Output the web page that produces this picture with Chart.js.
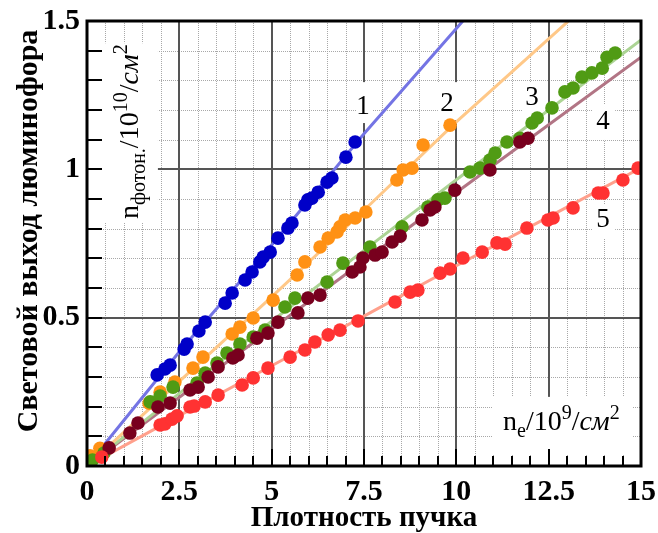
<!DOCTYPE html>
<html>
<head>
<meta charset="utf-8">
<script src="https://cdn.jsdelivr.net/npm/chart.js@4.4.0/dist/chart.umd.min.js"></script>
<style>
  html, body { margin: 0; padding: 0; background: #fff; }
</style>
</head>
<body>
<canvas id="chart" width="658" height="533"></canvas>
<script>
// Шкалы
const xTicks = [0, 2.5, 5, 7.5, 10, 12.5, 15];
const xTickLabels = ['0', '2.5', '5', '7.5', '10', '12.5', '15'];
const yTicks = [0, 0.5, 1, 1.5];
const yTickLabels = ['0', '0.5', '1', '1.5'];

// Точки
const s1X = [0.4, 1.90, 2.11, 2.25, 2.63, 2.71, 3.03, 3.20, 3.74, 3.93, 4.28, 4.47, 4.68, 4.77, 4.96, 5.17, 5.44, 5.55, 5.90, 5.98, 6.09, 6.26, 6.50, 6.63, 7.01, 7.26];
const s1Y = [0.05, 0.307, 0.327, 0.340, 0.394, 0.411, 0.455, 0.485, 0.549, 0.583, 0.627, 0.654, 0.688, 0.704, 0.721, 0.768, 0.802, 0.819, 0.880, 0.897, 0.903, 0.923, 0.957, 0.971, 1.041, 1.092];

const s2X = [0.08, 0.35, 1.68, 1.98, 2.38, 2.87, 3.14, 3.93, 4.14, 4.50, 5.04, 5.69, 5.90, 6.31, 6.53, 6.77, 6.85, 6.99, 7.26, 7.55, 8.39, 8.56, 8.80, 9.10, 9.83];
const s2Y = [0.034, 0.06, 0.212, 0.249, 0.283, 0.330, 0.367, 0.445, 0.468, 0.499, 0.559, 0.644, 0.688, 0.738, 0.768, 0.789, 0.806, 0.829, 0.836, 0.856, 0.964, 0.998, 1.004, 1.082, 1.149];

const s3X = [0.15, 0.46, 1.71, 1.98, 2.33, 2.98, 3.20, 3.52, 3.79, 4.14, 4.50, 4.82, 5.36, 5.63, 6.50, 6.93, 7.66, 8.53, 9.23, 9.50, 9.69, 10.37, 10.64, 10.91, 11.05, 11.37, 11.72, 12.05, 12.19, 12.59, 12.94, 13.16, 13.40, 13.67, 13.95, 14.08, 14.30];
const s3Y = [0.02, 0.044, 0.216, 0.236, 0.266, 0.280, 0.313, 0.347, 0.381, 0.411, 0.435, 0.458, 0.536, 0.566, 0.620, 0.684, 0.738, 0.806, 0.873, 0.897, 0.903, 0.991, 1.004, 1.031, 1.055, 1.092, 1.105, 1.156, 1.173, 1.207, 1.261, 1.274, 1.311, 1.325, 1.341, 1.378, 1.392];

const s4X = [0.60, 1.16, 1.38, 1.92, 2.25, 2.79, 3.01, 3.28, 3.55, 3.95, 4.09, 4.60, 4.90, 5.17, 5.71, 5.98, 6.31, 7.18, 7.39, 7.47, 7.80, 7.99, 8.26, 8.48, 9.07, 9.29, 9.42, 9.96, 10.91, 11.72, 11.94];
const s4Y = [0.061, 0.111, 0.145, 0.199, 0.212, 0.256, 0.266, 0.300, 0.334, 0.364, 0.374, 0.431, 0.448, 0.485, 0.516, 0.566, 0.576, 0.654, 0.671, 0.701, 0.711, 0.721, 0.755, 0.775, 0.829, 0.863, 0.873, 0.930, 0.998, 1.092, 1.105];

const s5X = [0.4, 1.98, 2.11, 2.30, 2.44, 2.79, 2.90, 3.20, 3.55, 4.20, 4.50, 4.90, 5.50, 5.90, 6.17, 6.53, 6.85, 7.34, 8.34, 8.75, 8.96, 9.56, 9.83, 10.18, 10.70, 11.10, 11.32, 11.91, 12.48, 12.62, 13.16, 13.84, 13.97, 14.51, 14.92];
const s5Y = [0.03, 0.138, 0.142, 0.158, 0.169, 0.199, 0.202, 0.216, 0.239, 0.273, 0.297, 0.330, 0.367, 0.391, 0.418, 0.442, 0.458, 0.489, 0.553, 0.586, 0.593, 0.650, 0.664, 0.701, 0.721, 0.752, 0.748, 0.802, 0.829, 0.836, 0.870, 0.920, 0.920, 0.964, 1.004];

// Линии аппроксимации
const fitX = [0, 2.5, 5, 7.5, 10, 12.5, 15];
const fit1Y = [0, 0.385, 0.745, 1.12, 1.475, 1.83, 2.18];
const fit2Y = [0, 0.285, 0.57, 0.862, 1.16, 1.44, 1.72];
const fit3Y = [0, 0.245, 0.488, 0.727, 0.965, 1.2, 1.436];
const fit4Y = [0, 0.232, 0.462, 0.692, 0.922, 1.15, 1.378];
const fit5Y = [0, 0.17, 0.338, 0.505, 0.675, 0.84, 1.005];

const toXY = (xs, ys) => xs.map((x, i) => ({ x, y: ys[i] }));

const dotColors = ['rgb(0,0,200)', 'rgb(255,145,20)', 'rgb(80,155,20)', 'rgb(120,0,30)', 'rgb(255,50,50)'];
const fitColors = ['#7474e4', '#ffc888', '#acd494', '#b27585', '#ffa08c'];

const series = [[s1X, s1Y], [s2X, s2Y], [s3X, s3Y], [s4X, s4Y], [s5X, s5Y]];
const fits = [fit1Y, fit2Y, fit3Y, fit4Y, fit5Y];

const datasets = [];
fits.forEach((fy, i) => {
  datasets.push({
    data: toXY(fitX, fy),
    showLine: true,
    borderColor: fitColors[i],
    borderWidth: 3,
    pointRadius: 0,
    order: 10
  });
});
series.forEach(([xs, ys], i) => {
  datasets.push({
    data: toXY(xs, ys),
    showLine: false,
    backgroundColor: dotColors[i],
    borderWidth: 0,
    pointRadius: 6.8,
    order: 5 - i
  });
});

// Белые подложки под подписями (в единицах данных)
const boxes = [
  [0.22, 1.92, 0.822, 1.425],
  [7.31, 7.74, 1.156, 1.294],
  [9.50, 10.15, 1.166, 1.294],
  [11.78, 12.37, 1.178, 1.294],
  [13.70, 14.30, 1.099, 1.220],
  [13.70, 14.30, 0.768, 0.883],
  [10.99, 14.76, 0.037, 0.233]
];
const curveLabels = [['1', 7.47, 1.21], ['2', 9.75, 1.22], ['3', 12.05, 1.24], ['4', 13.97, 1.16], ['5', 13.97, 0.83]];

const serif = '"Liberation Serif", "Times New Roman", serif';

function drawRich(ctx, parts, x, y) {
  let cx = x;
  parts.forEach(p => {
    ctx.font = p.font;
    ctx.fillText(p.t, cx, y + (p.dy || 0));
    cx += ctx.measureText(p.t).width;
  });
}

const gridPlugin = {
  id: 'gridPlugin',
  beforeDatasetsDraw(chart) {
    const { ctx, chartArea: a, scales: { x, y } } = chart;
    ctx.save();
    // мелкая сетка
    ctx.strokeStyle = '#a8a8a8';
    ctx.lineWidth = 1;
    ctx.setLineDash([1, 1]);
    for (let i = 1; i < 30; i++) {
      if (i % 5 === 0) continue;
      const px = Math.round(x.getPixelForValue(i * 0.5)) + 0.5;
      ctx.beginPath(); ctx.moveTo(px, a.top); ctx.lineTo(px, a.bottom); ctx.stroke();
    }
    for (let j = 1; j < 15; j++) {
      if (j % 5 === 0) continue;
      const py = Math.round(y.getPixelForValue(j * 0.1)) + 0.5;
      ctx.beginPath(); ctx.moveTo(a.left, py); ctx.lineTo(a.right, py); ctx.stroke();
    }
    // основная сетка
    ctx.setLineDash([]);
    ctx.strokeStyle = '#555';
    ctx.lineWidth = 2;
    for (let i = 1; i < 6; i++) {
      const px = Math.round(x.getPixelForValue(i * 2.5));
      ctx.beginPath(); ctx.moveTo(px, a.top); ctx.lineTo(px, a.bottom); ctx.stroke();
    }
    for (let j = 1; j < 3; j++) {
      const py = Math.round(y.getPixelForValue(j * 0.5));
      ctx.beginPath(); ctx.moveTo(a.left, py); ctx.lineTo(a.right, py); ctx.stroke();
    }
    // подложки
    ctx.fillStyle = '#fff';
    boxes.forEach(([x0, x1, y0, y1]) => {
      const l = x.getPixelForValue(x0), r = x.getPixelForValue(x1);
      const t = y.getPixelForValue(y1), b = y.getPixelForValue(y0);
      ctx.fillRect(l, t, r - l, b - t);
    });
    // номера кривых
    ctx.fillStyle = '#000';
    ctx.font = '27px ' + serif;
    ctx.textAlign = 'center';
    ctx.textBaseline = 'middle';
    curveLabels.forEach(([t, vx, vy]) => {
      ctx.fillText(t, x.getPixelForValue(vx), y.getPixelForValue(vy));
    });
    // подписи осей внутри графика
    ctx.textAlign = 'left';
    ctx.textBaseline = 'alphabetic';
    const big = '28px ' + serif, small = '20px ' + serif, ital = 'italic 28px ' + serif;
    drawRich(ctx, [
      { t: 'n', font: big },
      { t: 'e', font: small, dy: 7 },
      { t: '/10', font: big },
      { t: '9', font: small, dy: -11 },
      { t: '/', font: big },
      { t: 'см', font: ital },
      { t: '2', font: small, dy: -11 }
    ], 503, 430);
    ctx.translate(138, 219);
    ctx.rotate(-Math.PI / 2);
    drawRich(ctx, [
      { t: 'n', font: big },
      { t: 'фотон.', font: small, dy: 7 },
      { t: '/10', font: big },
      { t: '10', font: small, dy: -11 },
      { t: '/', font: big },
      { t: 'см', font: ital },
      { t: '2', font: small, dy: -11 }
    ], 0, 0);
    ctx.restore();
  },
  afterDatasetsDraw(chart) {
    const { ctx, chartArea: a, scales: { x, y } } = chart;
    ctx.save();
    ctx.strokeStyle = '#000';
    ctx.lineWidth = 2;
    // засечки внутрь
    for (let i = 1; i < 30; i++) {
      const px = Math.round(x.getPixelForValue(i * 0.5));
      const len = i % 5 === 0 ? 17 : 10;
      ctx.beginPath(); ctx.moveTo(px, a.bottom); ctx.lineTo(px, a.bottom - len); ctx.stroke();
    }
    for (let j = 1; j < 15; j++) {
      const py = Math.round(y.getPixelForValue(j * 0.1));
      ctx.beginPath(); ctx.moveTo(a.left, py); ctx.lineTo(a.left + 15, py); ctx.stroke();
    }
    ctx.lineWidth = 3;
    ctx.strokeRect(a.left, a.top, a.right - a.left, a.bottom - a.top);
    ctx.restore();
  },
  afterDraw(chart) {
    // подпись оси Y
    const { ctx } = chart;
    ctx.save();
    ctx.translate(29, 231);
    ctx.rotate(-Math.PI / 2);
    ctx.fillStyle = '#000';
    ctx.font = 'bold 30px ' + serif;
    ctx.textAlign = 'center';
    ctx.textBaseline = 'middle';
    ctx.fillText('Световой выход люминофора', 0, 0);
    ctx.restore();
  }
};

new Chart(document.getElementById('chart'), {
  type: 'scatter',
  data: { datasets },
  options: {
    responsive: false,
    animation: false,
    devicePixelRatio: 1,
    layout: { padding: { left: 0, right: 17, top: 21, bottom: 0 } },
    plugins: { legend: { display: false }, tooltip: { enabled: false } },
    scales: {
      x: {
        type: 'linear', min: 0, max: 15,
        afterBuildTicks: s => { s.ticks = xTicks.map(v => ({ value: v })); },
        afterFit: s => { s.height = 67; s.paddingLeft = 0; s.paddingRight = 0; },
        grid: { display: false, drawTicks: false },
        border: { display: false },
        ticks: {
          padding: 8,
          color: '#000',
          font: { family: serif, size: 30, weight: 'bold' },
          callback: (v, i) => xTickLabels[i]
        },
        title: {
          display: true,
          text: 'Плотность пучка',
          color: '#000',
          font: { family: serif, size: 29, weight: 'bold', lineHeight: 1 },
          padding: { top: 0, bottom: 0 }
        }
      },
      y: {
        type: 'linear', min: 0, max: 1.5,
        afterBuildTicks: s => { s.ticks = yTicks.map(v => ({ value: v })); },
        afterFit: s => { s.width = 87; s.paddingTop = 0; s.paddingBottom = 0; },
        grid: { display: false, drawTicks: false },
        border: { display: false },
        ticks: {
          padding: 7,
          color: '#000',
          font: { family: serif, size: 30, weight: 'bold' },
          callback: (v, i) => yTickLabels[i]
        }
      }
    }
  },
  plugins: [gridPlugin]
});
</script>
</body>
</html>
